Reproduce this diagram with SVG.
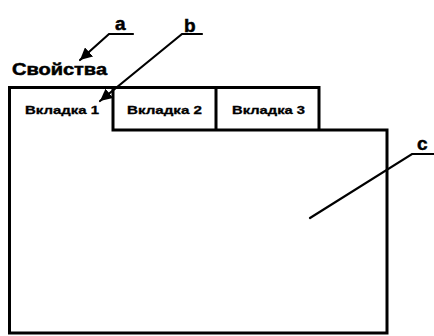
<svg xmlns="http://www.w3.org/2000/svg" width="434" height="336" viewBox="0 0 434 336">
<style>
.box{fill:none;stroke:#000;stroke-width:3;stroke-linejoin:miter}
.lead{fill:none;stroke:#000;stroke-width:2.2;stroke-linecap:round}
.tab{font-family:"Liberation Sans",Arial,sans-serif;font-weight:bold;font-size:11px;fill:#000;stroke:#000;stroke-width:0.3}
.lbl{font-family:"Liberation Sans",Arial,sans-serif;font-weight:bold;font-size:19px;fill:#000;stroke:#000;stroke-width:0.5}
.title{font-family:"Liberation Sans",Arial,sans-serif;font-weight:bold;font-size:16px;fill:#000;stroke:#000;stroke-width:0.5}
</style>
<defs>
<marker id="arr" viewBox="0 0 10 10" refX="10" refY="5" markerWidth="5.5" markerHeight="5.5" orient="auto" markerUnits="strokeWidth">
<path d="M0,0 L10,5 L0,10 z" fill="#000"/>
</marker>
</defs>
<rect width="434" height="336" fill="#fff"/>
<g id="title"><text class="title" x="12" y="75" textLength="95" lengthAdjust="spacingAndGlyphs">Свойства</text></g>
<g id="window">
<path class="box" d="M9.5,333 V87.5 H113 V130 H387 V333 Z"/>
</g>
<g id="tab1"><text class="tab" x="25" y="114" textLength="74" lengthAdjust="spacingAndGlyphs">Вкладка 1</text></g>
<g id="tab2"><path class="box" d="M113,87.5 H216 V130"/><text class="tab" x="127" y="114" textLength="75" lengthAdjust="spacingAndGlyphs">Вкладка 2</text></g>
<g id="tab3"><path class="box" d="M216,87.5 H319 V130"/><text class="tab" x="232" y="114" textLength="73" lengthAdjust="spacingAndGlyphs">Вкладка 3</text></g>
<g id="label-a"><text class="lbl" x="115" y="30">a</text></g>
<g id="label-b"><text class="lbl" x="184" y="32">b</text></g>
<g id="label-c"><text class="lbl" x="417" y="150">c</text></g>
<g id="connectors">
<path class="lead" d="M133,34 H109 L80,60" marker-end="url(#arr)"/>
<path class="lead" d="M202,34 H182 L100,101" marker-end="url(#arr)"/>
<path class="lead" d="M434,154 H412 L310,218"/>
</g>
</svg>
